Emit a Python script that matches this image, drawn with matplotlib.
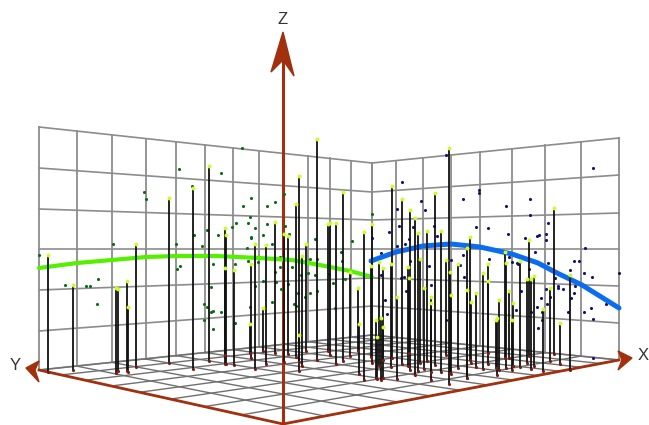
import numpy as np
import matplotlib.pyplot as plt

plt.rcParams['font.family'] = ['Liberation Sans', 'DejaVu Sans']

# everything, in image pixels
left_wall_x = [39, 77, 112, 146, 176, 205, 233, 259, 283, 308, 330, 351, 372]
right_wall_x = [372, 396, 423, 451, 480, 512, 545, 581, 619]
left_edge_y = [127, 168, 209, 249, 290, 331, 370]
corner_y = [163, 192, 220, 249, 278, 306, 335]
right_edge_y = [138, 175, 213, 249, 286, 323, 360]

floor_left = (39, 370)
floor_front = (283, 424)
floor_right = (619, 360)
floor_back = (372, 335)

green_x = [39, 77, 112, 146, 176, 217, 259, 292, 325, 350, 372]
green_y = [268, 263, 260, 257, 256, 256, 258, 260, 266, 271, 277]
blue_x = [371, 396, 423, 451, 480, 512, 538, 555, 582, 619]
blue_y = [261, 252, 246, 244, 247, 254, 263, 272, 285, 308]

stem_x = [48, 73, 116, 118, 127, 128, 136, 169, 193, 209, 225, 226, 225, 234, 250, 251, 255,
          263, 266, 275, 284, 288, 296, 299, 299, 302, 306, 317, 328, 330, 336, 343, 350,
          358, 359, 364, 371, 372, 376, 377, 379, 381, 383, 383, 391, 392, 397, 402, 408,
          409, 410, 415, 418, 420, 424, 427, 431, 431, 435, 441, 446, 449, 450, 451, 458,
          467, 467, 470, 471, 476, 483, 488, 488, 496, 497, 499, 505, 506, 509, 512, 513,
          520, 527, 529, 531, 534, 543, 550, 554, 560, 570]
stem_top = [255, 285, 288, 289, 281, 307, 244, 198, 188, 166, 228, 235, 268, 270, 324, 264, 244,
            308, 245, 222, 234, 236, 204, 176, 335, 256, 244, 139, 224, 223, 223, 192, 272,
            288, 324, 232, 266, 224, 320, 337, 262, 318, 268, 327, 264, 186, 297, 199, 267,
            278, 210, 218, 233, 259, 288, 231, 297, 303, 193, 231, 260, 148, 272, 295, 264,
            248, 290, 237, 302, 293, 273, 264, 281, 320, 318, 300, 252, 263, 291, 320, 303,
            261, 279, 240, 279, 276, 309, 288, 208, 323, 275]
stem_base = [372, 370, 373, 371, 371, 372, 367, 363, 369, 361, 355, 364, 364, 365, 353, 358, 369,
             351, 364, 353, 362, 354, 357, 362, 371, 366, 351, 360, 351, 355, 364, 361, 356,
             351, 374, 380, 357, 363, 378, 379, 366, 380, 360, 378, 367, 358, 379, 364, 366,
             353, 370, 375, 371, 363, 369, 361, 380, 372, 365, 372, 355, 384, 373, 374, 368,
             378, 378, 360, 363, 367, 369, 353, 364, 368, 375, 370, 358, 368, 358, 370, 366,
             367, 363, 356, 369, 366, 371, 361, 354, 364, 370]

green_dot_x = [242, 179, 221, 192, 144, 146, 284, 251, 275, 243, 267, 250, 236, 248, 267, 285,
               232, 255, 207, 218, 194, 263, 289, 251, 251, 315, 113, 176, 202, 272, 247, 39,
               280, 248, 258, 213, 235, 180, 177, 280, 292, 310, 317, 65, 86, 90, 98, 97, 211,
               204, 207, 213, 211, 221, 204, 213, 235, 250, 255, 263, 276, 281, 272, 288, 294,
               296, 301, 298, 305, 310, 308, 315, 317, 275, 341, 342, 352, 372, 333, 345, 335, 329]
green_dot_y = [148, 169, 173, 186, 192, 199, 194, 198, 202, 206, 206, 217, 223, 223, 224, 226,
               227, 228, 230, 235, 235, 235, 234, 237, 238, 239, 244, 244, 246, 244, 248, 255,
               257, 261, 262, 264, 264, 266, 269, 267, 267, 259, 259, 285, 286, 286, 279, 304, 287,
               304, 307, 311, 312, 312, 320, 329, 323, 307, 286, 281, 282, 289, 302, 284, 304,
               306, 275, 293, 297, 293, 273, 275, 291, 272, 252, 261, 241, 214, 283, 279, 308, 274]
navy_dot_x = [446, 593, 402, 479, 479, 421, 463, 530, 506, 397, 425, 530, 548, 399, 434, 413, 476,
              488, 389, 508, 546, 539, 537, 437, 525, 409, 372, 546, 405, 397, 585, 535, 381, 463,
              489, 509, 451, 410, 512, 517, 518, 548, 574, 579, 460, 429, 529, 570, 381, 401, 404,
              406, 431, 464, 385, 387, 446, 521, 516, 555, 546, 558, 558, 563, 575, 574, 571, 584,
              592, 619, 541, 550, 547, 537, 542, 542, 538, 568, 584, 591, 593, 606, 593, 531]
navy_dot_y = [155, 168, 182, 190, 193, 201, 199, 199, 206, 209, 210, 215, 223, 226, 226, 227, 227,
              228, 232, 234, 234, 235, 236, 236, 238, 239, 238, 240, 244, 246, 248, 252, 253, 255,
              259, 257, 260, 261, 262, 263, 264, 263, 261, 261, 265, 266, 269, 270, 275, 278, 277,
              291, 285, 277, 300, 314, 320, 291, 310, 278, 289, 286, 288, 289, 286, 293, 298, 273,
              277, 273, 298, 297, 304, 307, 312, 320, 328, 312, 312, 308, 319, 304, 358, 312]

axis_color = '#a1300e'
grid_color = '#8c8c8c'


def floor_point(u, v):
    # perspective map of the unit square onto the floor quad
    src = [(0, 0), (1, 0), (1, 1), (0, 1)]
    dst = [floor_front, floor_right, floor_back, floor_left]
    A, b = [], []
    for (s, t), (px, py) in zip(src, dst):
        A.append([s, t, 1, 0, 0, 0, -s * px, -t * px])
        A.append([0, 0, 0, s, t, 1, -s * py, -t * py])
        b += [px, py]
    h = np.linalg.solve(np.array(A, float), np.array(b, float))
    w = h[6] * u + h[7] * v + 1
    return (h[0] * u + h[1] * v + h[2]) / w, (h[3] * u + h[4] * v + h[5]) / w


fig = plt.figure(figsize=(6.49, 4.25), dpi=100)
ax = fig.add_axes([0, 0, 1, 1])
ax.set_xlim(0, 649)
ax.set_ylim(425, 0)
ax.axis('off')


def wall_y(x, x0, x1, y0, y1):
    return y0 + (y1 - y0) * (x - x0) / (x1 - x0)


# walls
for y0, y1 in zip(left_edge_y, corner_y):
    ax.plot([39, 372], [y0, y1], color=grid_color, lw=1.2, zorder=1)
for y0, y1 in zip(corner_y, right_edge_y):
    ax.plot([372, 619], [y0, y1], color=grid_color, lw=1.2, zorder=1)
for x in left_wall_x:
    ax.plot([x, x], [wall_y(x, 39, 372, 127, 163), wall_y(x, 39, 372, 370, 335)],
            color=grid_color, lw=1.3, zorder=1)
for x in right_wall_x:
    ax.plot([x, x], [wall_y(x, 372, 619, 163, 138), wall_y(x, 372, 619, 335, 360)],
            color=grid_color, lw=1.3, zorder=1)

# floor
for u in np.linspace(0, 1, 13):
    px, py = zip(*[floor_point(u, v) for v in (0, 1)])
    ax.plot(px, py, color='#707070', lw=1.0, zorder=2)
for v in np.linspace(0, 1, 9):
    px, py = zip(*[floor_point(u, v) for u in (0, 1)])
    ax.plot(px, py, color='#707070', lw=1.0, zorder=2)

# axes and arrow heads
ax.plot([39, 283, 619], [370, 424, 360], color=axis_color, lw=2.0, zorder=3)
ax.plot([283, 283], [424, 62], color=axis_color, lw=2.2, zorder=3)
ax.fill([283, 271, 283, 294], [32, 72, 60, 76], color=axis_color, zorder=3)
ax.fill([632, 618, 622, 618], [358, 351, 360, 370], color=axis_color, zorder=3)
ax.fill([26, 39, 35, 39], [368, 361, 370, 382], color=axis_color, zorder=3)
ax.text(283, 19, 'Z', ha='center', va='center', fontsize=12, color='#333333')
ax.text(15, 366, 'Y', ha='center', va='center', fontsize=12, color='#333333')
ax.text(643, 355, 'X', ha='center', va='center', fontsize=12, color='#333333')

# projected points and fitted curves on the walls
ax.scatter(green_dot_x, green_dot_y, s=5, color='#0b6b16', linewidths=0, zorder=4)
ax.scatter(navy_dot_x, navy_dot_y, s=5, color='#14146e', linewidths=0, zorder=4)
ax.plot(green_x, green_y, color='#55f000', lw=3.0, zorder=4, solid_capstyle='round')
ax.plot(blue_x, blue_y, color='#0a6cf0', lw=3.6, zorder=4, solid_capstyle='round')

# stems
ax.vlines(stem_x, stem_top, stem_base, color='#111111', lw=1.3, zorder=5)
ax.scatter(stem_x, stem_base, s=5, color='#7a1a12', linewidths=0, zorder=6)
ax.scatter(stem_x, stem_top, s=8, color='#c6ff2a', linewidths=0, zorder=6)

fig.savefig('out.png', dpi=100)
